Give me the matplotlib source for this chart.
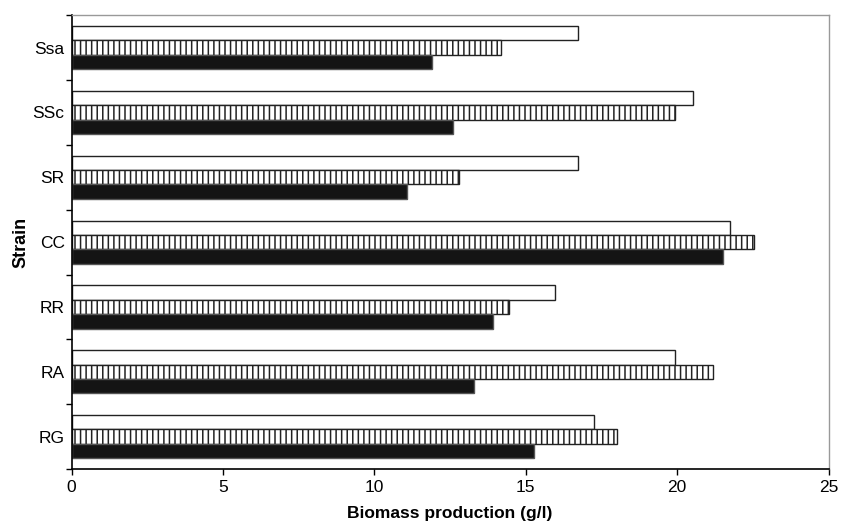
import numpy as np
import matplotlib.pyplot as plt
from matplotlib.ticker import FixedLocator

# Datos
strains = ['RG', 'RA', 'RR', 'CC', 'SR', 'SSc', 'Ssa']
white_vals = [17.25, 19.92, 15.98, 21.76, 16.72, 20.52, 16.72]
hatch_vals = [18.01, 21.18, 14.45, 22.54, 12.81, 19.92, 14.17]
black_vals = [15.27, 13.30, 13.92, 21.53, 11.09, 12.60, 11.89]

plt.rcParams['font.family'] = ['Liberation Sans Narrow', 'Liberation Sans', 'DejaVu Sans']
plt.rcParams['hatch.linewidth'] = 1.1
plt.rcParams['hatch.color'] = '#1a1a1a'

fig, ax = plt.subplots(figsize=(8.42, 5.24), dpi=100)
fig.subplots_adjust(left=0.085, right=0.984, top=0.971, bottom=0.105)

y = np.arange(len(strains))
h = 0.222

ax.barh(y + h, white_vals, height=h, color='white', edgecolor='#222222', linewidth=1.0)
ax.barh(y, hatch_vals, height=h, color='white', edgecolor='#222222', linewidth=1.0, hatch='|||')
ax.barh(y - h, black_vals, height=h, color='#141414', edgecolor='#555555', linewidth=1.0)

ax.set_xlim(0, 25)
ax.set_ylim(-0.5, len(strains) - 0.5)
ax.set_xticks([0, 5, 10, 15, 20, 25])
ax.set_yticks(y)
ax.set_yticklabels(strains)
ax.yaxis.set_minor_locator(FixedLocator(np.arange(-0.5, len(strains), 1.0)))
ax.tick_params(axis='y', which='major', length=0, labelsize=12.5, pad=5)
ax.tick_params(axis='y', which='minor', length=4, width=1.0, direction='out')
ax.tick_params(axis='x', which='major', length=4, width=1.0, direction='out', labelsize=12.5, pad=4)

ax.set_xlabel('Biomass production (g/l)', fontsize=12.5, fontweight='bold', labelpad=8)
ax.set_ylabel('Strain', fontsize=13, fontweight='bold', labelpad=2)

for s in ['top', 'right']:
    ax.spines[s].set_color('#999999')
    ax.spines[s].set_linewidth(1.0)
for s in ['left', 'bottom']:
    ax.spines[s].set_color('black')
    ax.spines[s].set_linewidth(1.2)

plt.savefig('out.png', dpi=100)
